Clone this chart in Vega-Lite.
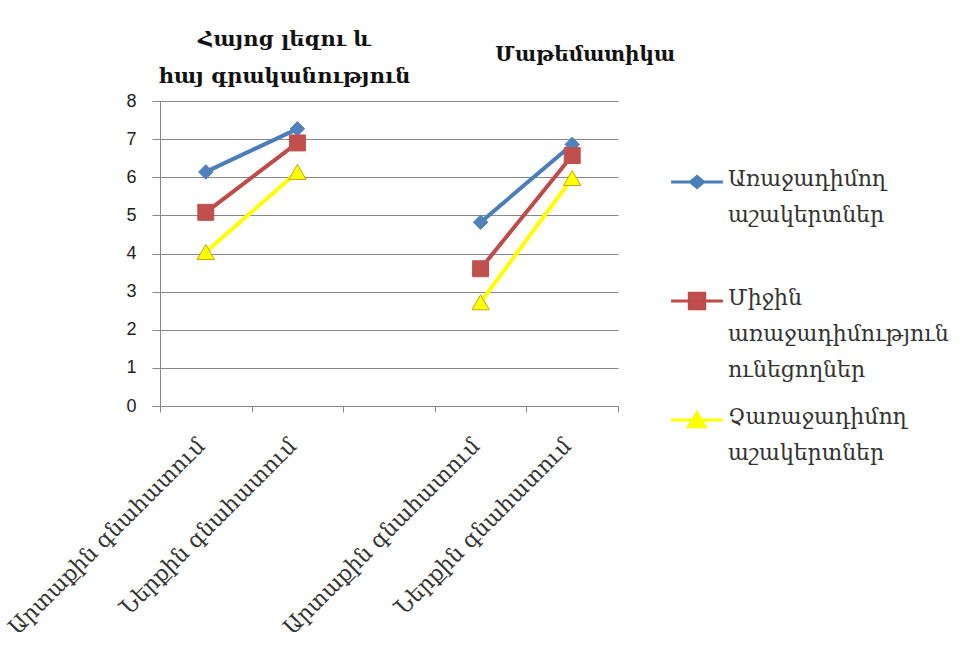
{
  "$schema": "https://vega.github.io/schema/vega-lite/v6.json",
  "width": 458,
  "height": 305,
  "autosize": {"type": "none"},
  "padding": {"left": 160, "top": 101, "right": 349, "bottom": 260},
  "background": "white",
  "config": {
    "view": {"stroke": null},
    "font": "DejaVu Serif",
    "axisY": {"tickCount": 8}
  },
  "resolve": {
    "scale": {"shape": "independent", "fill": "independent", "stroke": "independent", "size": "independent"},
    "legend": {"shape": "independent", "fill": "independent", "stroke": "independent", "size": "independent"}
  },
  "datasets": {
    "scores": [
      {"pos": "a1", "subject": "lang", "series": "Առաջադիմող աշակերտներ", "value": 6.14},
      {"pos": "a2", "subject": "lang", "series": "Առաջադիմող աշակերտներ", "value": 7.27},
      {"pos": "b1", "subject": "math", "series": "Առաջադիմող աշակերտներ", "value": 4.82},
      {"pos": "b2", "subject": "math", "series": "Առաջադիմող աշակերտներ", "value": 6.86},
      {"pos": "a1", "subject": "lang", "series": "Միջին առաջադիմություն ունեցողներ", "value": 5.08},
      {"pos": "a2", "subject": "lang", "series": "Միջին առաջադիմություն ունեցողներ", "value": 6.9},
      {"pos": "b1", "subject": "math", "series": "Միջին առաջադիմություն ունեցողներ", "value": 3.6},
      {"pos": "b2", "subject": "math", "series": "Միջին առաջադիմություն ունեցողներ", "value": 6.57},
      {"pos": "a1", "subject": "lang", "series": "Չառաջադիմող աշակերտներ", "value": 4.04},
      {"pos": "a2", "subject": "lang", "series": "Չառաջադիմող աշակերտներ", "value": 6.14},
      {"pos": "b1", "subject": "math", "series": "Չառաջադիմող աշակերտներ", "value": 2.72},
      {"pos": "b2", "subject": "math", "series": "Չառաջադիմող աշակերտներ", "value": 5.98}
    ],
    "titlesA": [
      {"pos": "a2", "y": 9.6, "txt": "Հայոց լեզու և"},
      {"pos": "a2", "y": 8.63, "txt": "հայ գրականություն"}
    ],
    "titlesB": [
      {"pos": "b2", "y": 9.2, "txt": "Մաթեմատիկա"}
    ],
    "legendKeys": []
  },
  "layer": [
    {
      "data": {"name": "scores"},
      "mark": {"type": "line", "strokeWidth": 4},
      "encoding": {
        "x": {
          "field": "pos", "type": "nominal",
          "scale": {"domain": ["a1", "a2", "gap", "b1", "b2"], "paddingInner": 0, "paddingOuter": 0},
          "axis": {
            "title": null,
            "labelExpr": "datum.value == 'a1' || datum.value == 'b1' ? 'Արտաքին գնահատում' : datum.value == 'a2' || datum.value == 'b2' ? 'Ներքին գնահատում' : ''",
            "labelAngle": -45,
            "labelAlign": "right",
            "labelBaseline": "middle",
            "labelFont": "DejaVu Serif",
            "labelFontSize": 22,
            "labelColor": "#333333",
            "labelOffset": -5,
            "labelPadding": 30,
            "tickBand": "extent",
            "tickSize": 6,
            "tickColor": "#888888",
            "domainColor": "#888888",
            "grid": false,
            "labelLimit": 400
          }
        },
        "y": {
          "field": "value", "type": "quantitative",
          "scale": {"domain": [0, 8], "nice": false},
          "axis": {
            "title": null,
            "tickCount": 8,
            "labelFont": "Liberation Sans",
            "labelFontSize": 18,
            "labelColor": "#222222",
            "labelPadding": 16,
            "tickSize": 8,
            "tickColor": "#888888",
            "domainColor": "#888888",
            "gridColor": "#888888",
            "gridWidth": 1
          }
        },
        "color": {
          "field": "series", "type": "nominal",
          "scale": {
            "domain": ["Առաջադիմող աշակերտներ", "Միջին առաջադիմություն ունեցողներ", "Չառաջադիմող աշակերտներ"],
            "range": ["#4A7EBB", "#BE4B48", "#FFFF00"]
          },
          "legend": null
        },
        "detail": {"field": "subject"}
      }
    },
    {
      "data": {"name": "scores"},
      "mark": {"type": "point", "filled": true, "opacity": 1, "strokeWidth": 1},
      "encoding": {
        "x": {"field": "pos", "type": "nominal"},
        "y": {"field": "value", "type": "quantitative"},
        "shape": {
          "field": "series", "type": "nominal",
          "scale": {
            "domain": ["Առաջադիմող աշակերտներ", "Միջին առաջադիմություն ունեցողներ", "Չառաջադիմող աշակերտներ"],
            "range": ["diamond", "square", "triangle-up"]
          },
          "legend": null
        },
        "size": {
          "field": "series", "type": "nominal",
          "scale": {
            "domain": ["Առաջադիմող աշակերտներ", "Միջին առաջադիմություն ունեցողներ", "Չառաջադիմող աշակերտներ"],
            "range": [210, 300, 350]
          },
          "legend": null
        },
        "fill": {
          "field": "series", "type": "nominal",
          "scale": {
            "domain": ["Առաջադիմող աշակերտներ", "Միջին առաջադիմություն ունեցողներ", "Չառաջադիմող աշակերտներ"],
            "range": ["#4F81BD", "#C0504D", "#FFFF00"]
          },
          "legend": null
        },
        "stroke": {
          "field": "series", "type": "nominal",
          "scale": {
            "domain": ["Առաջադիմող աշակերտներ", "Միջին առաջադիմություն ունեցողներ", "Չառաջադիմող աշակերտներ"],
            "range": ["#4F81BD", "#C0504D", "#C8A800"]
          },
          "legend": null
        }
      }
    },
    {
      "data": {"name": "legendKeys"},
      "mark": {"type": "point", "filled": true, "opacity": 1, "strokeWidth": 3},
      "encoding": {
        "shape": {
          "field": "series", "type": "nominal",
          "scale": {
            "domain": ["Առաջադիմող աշակերտներ", "Միջին առաջադիմություն ունեցողներ", "Չառաջադիմող աշակերտներ"],
            "range": [
              "M-3.7,0H3.7M0,-0.8L0.93,0L0,0.8L-0.93,0Z",
              "M-3.7,0H3.7M-1.1,-1.1H1.1V1.1H-1.1Z",
              "M-3.7,0H3.7M0,-1.05L1.2,0.95H-1.2Z"
            ]
          },
          "legend": {
            "title": null,
            "orient": "none",
            "legendX": 526,
            "legendY": 70,
            "labelExpr": "split(datum.label + (datum.label == 'Առաջադիմող աշակերտներ' ? ' ' : ''), ' ')",
            "labelFont": "DejaVu Serif",
            "labelFontSize": 22,
            "labelColor": "#333333",
            "labelLimit": 400,
            "labelOffset": 20,
            "rowPadding": 25,
            "symbolSize": 196,
            "symbolStrokeWidth": 3,
            "symbolOpacity": 1,
            "encode": {
              "labels": {"update": {"lineHeight": {"value": 36}, "baseline": {"value": "top"}, "dy": {"value": -13}}}
            }
          }
        },
        "stroke": {
          "field": "series", "type": "nominal",
          "scale": {
            "domain": ["Առաջադիմող աշակերտներ", "Միջին առաջադիմություն ունեցողներ", "Չառաջադիմող աշակերտներ"],
            "range": ["#4A7EBB", "#BE4B48", "#FFFF00"]
          },
          "legend": {
            "title": null,
            "orient": "none",
            "legendX": 526,
            "legendY": 70,
            "labelExpr": "split(datum.label + (datum.label == 'Առաջադիմող աշակերտներ' ? ' ' : ''), ' ')",
            "labelFont": "DejaVu Serif",
            "labelFontSize": 22,
            "labelColor": "#333333",
            "labelLimit": 400,
            "labelOffset": 20,
            "rowPadding": 25,
            "symbolSize": 196,
            "symbolStrokeWidth": 3,
            "symbolOpacity": 1,
            "encode": {
              "labels": {"update": {"lineHeight": {"value": 36}, "baseline": {"value": "top"}, "dy": {"value": -13}}}
            }
          }
        },
        "fill": {
          "field": "series", "type": "nominal",
          "scale": {
            "domain": ["Առաջադիմող աշակերտներ", "Միջին առաջադիմություն ունեցողներ", "Չառաջադիմող աշակերտներ"],
            "range": ["#4F81BD", "#C0504D", "#FFFF00"]
          },
          "legend": {
            "title": null,
            "orient": "none",
            "legendX": 526,
            "legendY": 70,
            "labelExpr": "split(datum.label + (datum.label == 'Առաջադիմող աշակերտներ' ? ' ' : ''), ' ')",
            "labelFont": "DejaVu Serif",
            "labelFontSize": 22,
            "labelColor": "#333333",
            "labelLimit": 400,
            "labelOffset": 20,
            "rowPadding": 25,
            "symbolSize": 196,
            "symbolStrokeWidth": 3,
            "symbolOpacity": 1,
            "encode": {
              "labels": {"update": {"lineHeight": {"value": 36}, "baseline": {"value": "top"}, "dy": {"value": -13}}}
            }
          }
        }
      }
    },
    {
      "data": {"name": "titlesA"},
      "mark": {"type": "text", "font": "DejaVu Serif", "fontWeight": "bold", "fontSize": 21, "align": "center", "baseline": "middle", "dx": -13, "color": "#111111"},
      "encoding": {
        "x": {"field": "pos", "type": "nominal"},
        "y": {"field": "y", "type": "quantitative"},
        "text": {"field": "txt"}
      }
    },
    {
      "data": {"name": "titlesB"},
      "mark": {"type": "text", "font": "DejaVu Serif", "fontWeight": "bold", "fontSize": 20, "align": "center", "baseline": "middle", "dx": 13, "color": "#111111"},
      "encoding": {
        "x": {"field": "pos", "type": "nominal"},
        "y": {"field": "y", "type": "quantitative"},
        "text": {"field": "txt"}
      }
    }
  ]
}
